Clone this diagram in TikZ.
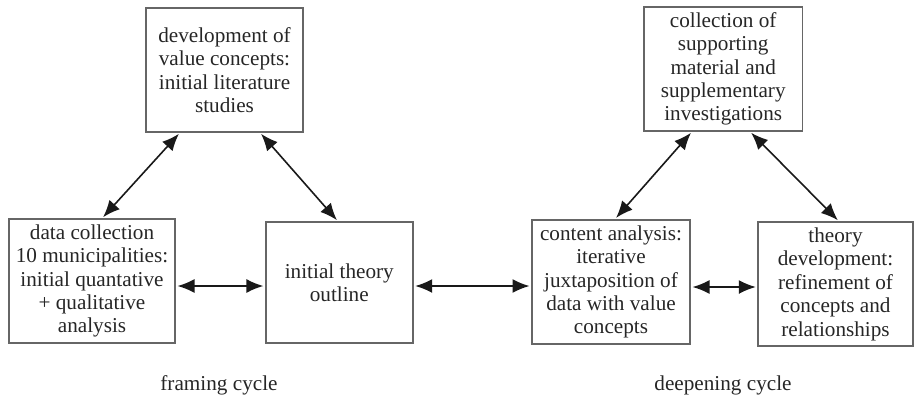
\documentclass[tikz,border=0pt]{standalone}
\usepackage{fontspec}
\setmainfont{Liberation Serif}
\usetikzlibrary{arrows.meta}

\begin{document}
\begin{tikzpicture}[x=0.5pt,y=0.5pt,
	box/.style={draw=black!60, line width=0.9pt, align=center, inner sep=0pt, text=black!85, font=\fontsize{10.6}{11.7}\selectfont},
	caption/.style={inner sep=0pt, text=black!85, font=\fontsize{10.6}{11.7}\selectfont},
	link/.style={black!90, line width=0.8pt, {Latex[length=8.5pt,width=7pt]}-{Latex[length=8.5pt,width=7pt]}, shorten >=0.8pt, shorten <=0.8pt}]
	\useasboundingbox (0,0) rectangle (914,-397);
	% framing cycle
	\node [box, minimum width=78.8pt, minimum height=61.7pt] (devel) at (224.5,-70) {development of\\value concepts:\\initial literature\\studies};
	\node [box, minimum width=83pt, minimum height=61.7pt] (datacoll) at (92,-281) {data collection\\10 municipalities:\\initial quantative\\+ qualitative\\analysis};
	\node [box, minimum width=73.4pt, minimum height=60.5pt] (outline) at (339.3,-282.8) {initial theory\\outline};
	\node [caption] (framing) at (219,-385) {framing cycle};
	% deepening cycle
	\node [box, minimum width=79pt, minimum height=62pt] (content) at (611,-282) {content analysis:\\iterative\\juxtaposition of\\data with value\\concepts};
	\node [box, minimum width=79.2pt, minimum height=61.7pt] (support) at (723.2,-69) {collection of\\supporting\\material and\\supplementary\\investigations};
	\node [box, minimum width=77.2pt, minimum height=61.9pt] (theory) at (835.5,-284.2) {theory\\development:\\refinement of\\concepts and\\relationships};
	\node [caption] (deepening) at (723,-385) {deepening cycle};
	% connectors
	\draw [link] (devel.south -| 180,0) -- (datacoll.north -| 102,0);
	\draw [link] (devel.south -| 260,0) -- (outline.north -| 338,0);
	\draw [link] (datacoll.east |- 0,-286) -- (outline.west |- 0,-286);
	\draw [link] (outline.east |- 0,-286) -- (content.west |- 0,-286);
	\draw [link] (support.south -| 692,0) -- (content.north -| 615,0);
	\draw [link] (support.south -| 750,0) -- (theory.north -| 839,0);
	\draw [link] (content.east |- 0,-287) -- (theory.west |- 0,-287);
\end{tikzpicture}
\end{document}
